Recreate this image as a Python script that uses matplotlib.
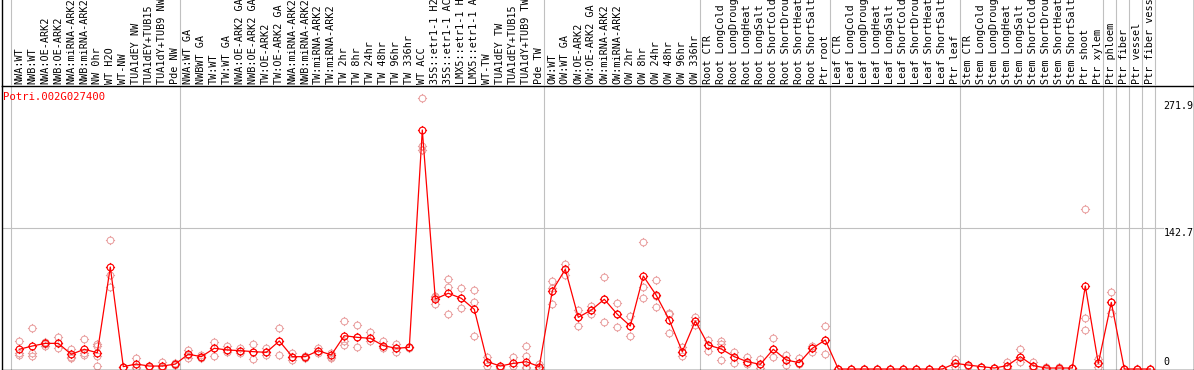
import numpy as np
import matplotlib
matplotlib.use("Agg")
import matplotlib.pyplot as plt
from matplotlib.path import Path

# ---------------- data ----------------
title = "Potri.002G027400"

labels = [
    # group 1
    "NWA:WT", "NWB:WT", "NWA:OE-ARK2", "NWB:OE-ARK2", "NWA:miRNA-ARK2", "NWB:miRNA-ARK2",
    "NW 0hr", "WT H2O", "WT-NW", "TUA1dEY NW", "TUA1dEY+TUB15", "TUA1dY+TUB9 NW", "Pde NW",
    # group 2
    "NWA:WT GA", "NWBWT GA", "TW:WT", "TW:WT GA", "NWA:OE-ARK2 GA", "NWB:OE-ARK2 GA",
    "TW:OE-ARK2", "TW:OE-ARK2 GA", "NWA:miRNA-ARK2", "NWB:miRNA-ARK2", "TW:miRNA-ARK2",
    "TW:miRNA-ARK2", "TW 2hr", "TW 8hr", "TW 24hr", "TW 48hr", "TW 96hr", "TW 336hr",
    "WT ACC", "35S::etr1-1 H2O", "35S::etr1-1 ACC", "LMX5::etr1-1 H2O", "LMX5::etr1-1 ACC",
    "WT-TW", "TUA1dEY TW", "TUA1dEY+TUB15", "TUA1dY+TUB9 TW", "Pde TW",
    # group 3
    "OW:WT", "OW:WT GA", "OW:OE-ARK2", "OW:OE-ARK2 GA", "OW:miRNA-ARK2", "OW:miRNA-ARK2",
    "OW 2hr", "OW 8hr", "OW 24hr", "OW 48hr", "OW 96hr", "OW 336hr",
    # group 4
    "Root CTR", "Root LongCold", "Root LongDrought", "Root LongHeat", "Root LongSalt",
    "Root ShortCold", "Root ShortDrought", "Root ShortHeat", "Root ShortSalt", "Ptr root",
    # group 5
    "Leaf CTR", "Leaf LongCold", "Leaf LongDrought", "Leaf LongHeat", "Leaf LongSalt",
    "Leaf ShortCold", "Leaf ShortDrought", "Leaf ShortHeat", "Leaf ShortSalt", "Ptr leaf",
    # group 6
    "Stem CTR", "Stem LongCold", "Stem LongDrought", "Stem LongHeat", "Stem LongSalt",
    "Stem ShortCold", "Stem ShortDrought", "Stem ShortHeat", "Stem ShortSalt", "Ptr shoot",
    "Ptr xylem",
    # singles
    "Ptr phloem", "Ptr fiber", "Ptr vessel", "Ptr fiber vessel",
]

# group boundaries (index of first sample in each new block)
group_bounds = [0, 13, 41, 53, 63, 73, 84, 85, 86, 87, 88]

means = [
    20.0, 23.3, 26.0, 26.0, 14.9, 20.0, 16.5, 103.4, 2.4, 5.0, 3.0, 3.0, 5.0,
    15.0, 12.5, 21.0, 19.3, 18.6, 17.6, 16.9, 28.4, 12.5, 12.5, 18.6, 14.2, 33.8, 32.1,
    31.1, 23.7, 21.0, 22.0, 242.4, 71.0, 76.8, 71.7, 60.5, 7.4, 3.0, 5.7, 7.4, 2.4,
    79.4, 101.1, 52.4, 59.8, 70.7, 55.5, 43.6, 94.3, 74.7, 49.7, 17.6, 48.7,
    24.3, 20.3, 12.5, 7.4, 4.7, 20.0, 9.1, 6.4, 21.0, 29.4,
    0, 0, 0, 0, 0, 0, 0, 0, 0, 5.7,
    4.0, 2.4, 1.0, 3.4, 12.5, 3.4, 1.0, 1.0, 1.0, 84.2, 5.7,
    67.6, 0, 0, 0,
]

rep1 = [
    28.4, 41.3, 27.7, 32.8, 20.3, 30.4, 25.4, 130.8, 2.4, 10.8, 3.5, 7.4, 5.7,
    19.3, 14.2, 27.7, 23.3, 21.6, 25.4, 21.0, 41.3, 15.9, 13.5, 21.0, 15.9, 48.7, 44.3,
    37.8, 28.4, 25.4, 22.5, 274.9, 74.0, 91.0, 81.8, 80.1, 11.8, 3.0, 11.8, 23.7, 5.0,
    89.6, 106.5, 59.8, 63.9, 93.0, 66.6, 54.1, 129.1, 90.0, 55.8, 22.6, 52.4,
    29.4, 28.4, 17.6, 11.8, 10.1, 31.1, 14.2, 10.8, 23.3, 43.9,
    0, 0, 0, 0, 0, 0, 0, 0, 0, 10.1,
    4.5, 2.4, 1.0, 7.4, 20.3, 7.4, 2.0, 2.0, 1.0, 162.3, 9.8,
    78.4, 0, 0, 0,
]

rep2 = [
    15.9, 15.9, 25.4, 26.0, 12.5, 15.9, 23.3, 95.3, 2.4, 2.4, 3.0, 2.4, 5.0,
    14.2, 12.5, 21.6, 19.3, 18.6, 17.6, 16.9, 28.4, 12.5, 12.5, 18.6, 12.5, 28.4, 32.1,
    31.1, 23.7, 21.0, 22.0, 226.0, 73.3, 82.9, 71.8, 67.6, 7.4, 2.4, 5.7, 13.2, 0.7,
    82.0, 101.0, 52.4, 60.0, 70.7, 55.5, 43.6, 82.9, 74.0, 57.0, 17.6, 48.7,
    24.3, 25.4, 12.5, 7.4, 4.7, 20.0, 9.1, 6.4, 21.0, 29.4,
    0, 0, 0, 0, 0, 0, 0, 0, 0, 5.7,
    4.0, 2.4, 1.0, 3.4, 12.5, 3.4, 1.0, 1.0, 1.0, 51.4, 5.7,
    68.0, 0, 0, 0,
]

rep3 = [
    14.2, 13.2, 23.3, 21.0, 10.8, 14.2, 13.5, 83.5, 2.4, 0.7, 2.5, 0.7, 4.5,
    10.8, 10.8, 13.5, 17.6, 15.9, 9.8, 14.2, 14.2, 9.1, 11.5, 15.9, 11.5, 24.3, 22.6,
    28.7, 21.0, 17.6, 21.5, 222.0, 65.6, 55.5, 61.5, 33.8, 3.0, 0.7, 3.0, 2.4, 0.5,
    66.0, 95.3, 43.9, 55.5, 47.4, 42.9, 33.5, 71.7, 63.2, 36.2, 13.2, 45.0,
    18.3, 9.1, 6.4, 5.0, 0.7, 11.8, 3.7, 5.0, 16.9, 14.9,
    0, 0, 0, 0, 0, 0, 0, 0, 0, 2.4,
    3.5, 2.4, 1.0, 0.7, 7.4, 1.0, 0.5, 0.5, 1.0, 39.5, 2.4,
    56.5, 0, 0, 0,
]

# a fourth replicate exists for a few samples only
rep4_idx = [6, 39]
rep4_val = [3.0, 0.7]

y_ticks = [271.9, 142.7, 0]

# ---------------- figure ----------------
W, H = 1194, 370
fig = plt.figure(figsize=(W / 100, H / 100), dpi=100)

MONO = "DejaVu Sans Mono"
GRID = "#c0c0c0"
PINK = "#e89a9a"

x = np.arange(len(means))
px0, dpx = 19.3, 13.0            # pixel of sample 0, pixel step
left_px, right_px = 1.5, 1193.5
xl = ((left_px - px0) / dpx, (right_px - px0) / dpx)

top_px = 85.7                    # line separating label area and plot
bot_px = 369.5
zero_px = 369.0
upp = 142.7 / (zero_px - 228.3)  # units per pixel

ax = fig.add_axes([left_px / W, (H - bot_px) / H, (right_px - left_px) / W,
                   (bot_px - top_px) / H])
ax.set_xlim(*xl)
ax.set_ylim(-(bot_px - zero_px) * upp, (zero_px - top_px) * upp)
ax.set_xticks([])
ax.set_yticks([])
for s in ax.spines.values():
    s.set_color("black")
    s.set_linewidth(1.0)

axl = fig.add_axes([left_px / W, (H - top_px) / H, (right_px - left_px) / W, top_px / H])
axl.set_xlim(*xl)
axl.set_ylim(0, top_px)
axl.set_xticks([])
axl.set_yticks([])
axl.spines["top"].set_visible(False)
axl.spines["bottom"].set_visible(False)
axl.spines["left"].set_linewidth(1.0)
axl.spines["right"].set_linewidth(1.0)
axl.patch.set_alpha(0)

# separators
off = (10.7 - px0) / dpx
for k in group_bounds:
    for a in (ax, axl):
        a.axvline(k + off, color=GRID, lw=0.8, zorder=0)

# horizontal grid at middle tick
x_end = (1163 - px0) / dpx
ax.plot([xl[0], x_end], [y_ticks[1], y_ticks[1]], color=GRID, lw=0.8, zorder=0)

# labels in top area
for i, lab in enumerate(labels):
    axl.text(i, top_px - 83.5, lab, rotation=90, ha="center", va="bottom",
             family=MONO, fontsize=7.3, color="black", clip_on=True)

# custom marker: circle with four short ticks
circ = Path.unit_circle()
t = 1.35
verts = list(circ.vertices) + [(0, 1), (0, t), (0, -1), (0, -t), (1, 0), (t, 0), (-1, 0), (-t, 0)]
codes = list(circ.codes) + [Path.MOVETO, Path.LINETO] * 4
mk = Path(verts, codes)
ms = 6.6

for rep in (rep1, rep2, rep3):
    ax.plot(x, rep, ls="none", marker=mk, ms=ms, mfc="none", mec=PINK, mew=0.7, zorder=2)
ax.plot(rep4_idx, rep4_val, ls="none", marker=mk, ms=ms, mfc="none", mec=PINK, mew=0.7, zorder=2)

ax.plot(x, means, color="red", lw=0.9, marker=mk, ms=ms, mfc="none", mec="red", mew=0.85, zorder=3)

# y labels on the right
tx = (1163.3 - px0) / dpx
ax.text(tx, y_ticks[0], "271.9", ha="left", va="top", family=MONO, fontsize=7.2)
ax.text(tx, y_ticks[1], "142.7", ha="left", va="top", family=MONO, fontsize=7.2)
ax.text(tx, y_ticks[2] + 2.0, "0", ha="left", va="bottom", family=MONO, fontsize=7.2)

# title
fig.text(3 / W, 1 - 97 / H, title, ha="left", va="center", color="red",
         family=MONO, fontsize=7.7)

fig.savefig("out.png", dpi=100)
